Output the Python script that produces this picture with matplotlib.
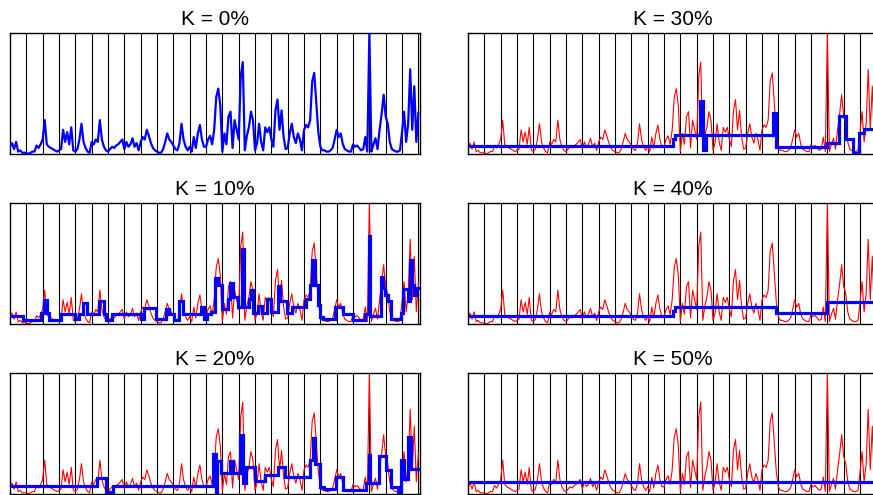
import numpy as np
import matplotlib
matplotlib.use('Agg')
import matplotlib.pyplot as plt

plt.rcParams['font.family'] = ['Liberation Sans', 'DejaVu Sans']

# original signal, 8 samples per day, 25 days (+ final sample), in % of max
signal = [
    6, 9, 4, 10, 2, 3, 1, 1,
    1, 0, 1, 2, 2, 7, 5, 8,
    12, 28, 8, 6, 5, 4, 3, 2,
    3, 4, 20, 10, 18, 8, 22, 3,
    2, 4, 12, 25, 10, 5, 2, 1,
    10, 8, 12, 10, 28, 12, 6, 3,
    2, 4, 6, 5, 7, 8, 10, 12,
    4, 10, 6, 8, 13, 6, 9, 3,
    10, 14, 12, 20, 15, 9, 5, 3,
    2, 1, 1, 4, 10, 17, 12, 10,
    7, 4, 3, 9, 25, 12, 6, 3,
    6, 2, 14, 5, 17, 24, 12, 6,
    6, 12, 15, 8, 20, 47, 54, 40,
    2, 17, 8, 31, 35, 5, 28, 20,
    12, 64, 76, 3, 15, 22, 35, 28,
    3, 9, 25, 10, 3, 22, 18, 22,
    12, 6, 36, 45, 20, 36, 14, 4,
    5, 17, 25, 14, 9, 17, 12, 3,
    20, 24, 22, 28, 60, 67, 42, 18,
    6, 3, 3, 2, 2, 3, 5, 12,
    20, 14, 17, 8, 4, 3, 2, 2,
    8, 6, 7, 5, 3, 4, 14, 2,
    100, 2, 8, 13, 4, 20, 33, 49,
    31, 25, 10, 4, 3, 2, 2, 3,
    18, 35, 10, 25, 70, 20, 56, 10,
    34,
]
samples_per_day = 8
n_days = 25

# piecewise-constant approximations (edges in days, levels in %)
k10_edges = [0, 0.79, 1.92, 2.08, 2.24, 2.36, 3.10, 3.95, 4.20, 4.46,
             4.73, 5.42, 5.75, 5.89, 6.23, 8.03, 8.23, 8.94, 9.55, 9.76,
             10.07, 10.37, 10.57, 11.69, 11.90, 12.06, 12.30, 12.55, 12.71, 12.96,
             13.33, 13.47, 13.67, 13.98, 14.22, 14.32, 14.63, 14.75, 14.89, 15.20,
             15.40, 15.71, 15.97, 16.38, 16.52, 16.93, 17.24, 18.15, 18.36, 18.50,
             18.66, 18.83, 18.97, 19.17, 19.89, 20.39, 21.01, 21.72, 21.96, 22.05,
             22.70, 22.84, 22.98, 23.14, 23.35, 23.96, 24.06, 24.37, 24.51, 24.63,
             24.73, 24.88, 25.1]
k10_levels = [7, 3, 9, 20, 9, 3, 8, 4, 8, 17,
              8, 19, 8, 3, 8, 4, 13, 4, 12, 8,
              3, 19, 8, 14, 4, 8, 10, 38, 32, 12,
              21, 34, 22, 14, 62, 14, 21, 28, 9, 15,
              9, 21, 10, 31, 19, 9, 14, 21, 32, 53,
              32, 16, 6, 4, 14, 8, 3, 8, 73, 7,
              39, 30, 24, 19, 4, 9, 29, 19, 53, 32,
              24, 30]

k20_edges = [0, 5.30, 5.87, 6.28, 12.43, 12.60, 12.70, 12.94, 13.45, 13.65,
             14.06, 14.26, 14.47, 14.98, 15.59, 16.40, 16.81, 18.34, 18.54, 18.70,
             18.99, 19.25, 19.97, 20.37, 21.80, 21.96, 22.04, 22.62, 23.02, 23.33,
             23.74, 23.94, 24.14, 24.35, 24.55, 25.1]
k20_levels = [7, 13, 2, 7, 33, 2, 27, 17, 27, 17,
              49, 9, 22, 11, 16, 22, 14, 28, 46, 25,
              6, 4, 14, 3, 9, 32, 9, 31, 20, 6,
              1, 28, 12, 47, 21]

k30_edges = [0, 12.55, 12.65, 14.18, 14.38, 14.59, 18.66, 18.83, 22.0, 22.74,
             23.14, 23.55, 23.96, 24.27, 25.1]
k30_levels = [7, 12, 16, 44, 3, 16, 34, 6, 9, 31, 12, 1, 17, 21]

k40_edges = [0, 12.57, 12.65, 18.87, 22.0, 25.1]
k40_levels = [7, 11, 14, 9, 18]

k50_edges = [0, 25.1]
k50_levels = [10]

panels = [
    (0, None, None),
    (10, k10_edges, k10_levels),
    (20, k20_edges, k20_levels),
    (30, k30_edges, k30_levels),
    (40, k40_edges, k40_levels),
    (50, k50_edges, k50_levels),
]

x = np.arange(len(signal)) / samples_per_day

fig = plt.figure(figsize=(8.73, 4.95), dpi=100)
lefts = [10 / 873, 468 / 873]
bottoms = [1 - 154 / 495, 1 - 324 / 495, 1 - 494 / 495]
w = 410 / 873
h = 121 / 495

for i, (k, edges, levels) in enumerate(panels):
    ax = fig.add_axes([lefts[i // 3], bottoms[i % 3], w, h])
    for d in range(1, n_days + 1):
        ax.axvline(d, color='black', lw=0.8, zorder=1)
    if edges is None:
        ax.plot(x, signal, color='blue', lw=1.6, zorder=3)
    else:
        ax.plot(x, signal, color='red', lw=0.8, zorder=2)
        ax.stairs(levels, edges, baseline=None, color='blue', lw=2.3, zorder=3)
    ax.set_xlim(0, 25.1)
    ax.set_ylim(0, 100)
    ax.set_xticks([])
    ax.set_yticks([])
    for s in ax.spines.values():
        s.set_linewidth(1.0)
    ax.set_title(f'K = {k}%', fontsize=15, pad=6)

fig.savefig('out.png', dpi=100)
